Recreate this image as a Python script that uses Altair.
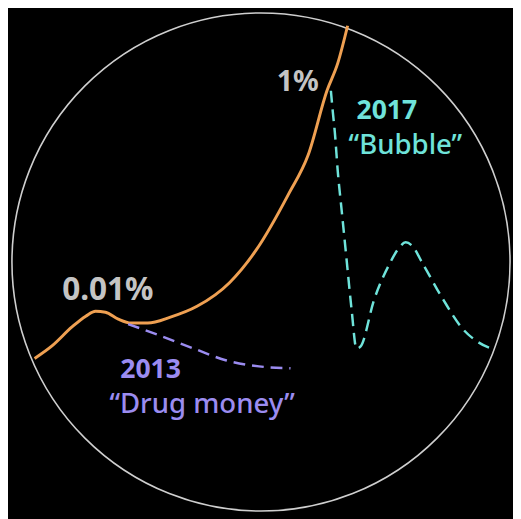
import altair as alt
import pandas as pd

# Coordinates (x to the right, y downward)
orange_x = [35, 53, 73, 87, 97, 107, 120, 133, 150, 173, 200, 233, 260, 293, 313, 332, 343, 353]
orange_y = [360, 347, 328, 317, 312, 313, 320, 324, 324, 318, 307, 283, 250, 193, 153, 88, 60, 22]

purple_x = [130, 163, 197, 230, 263, 295]
purple_y = [325, 337, 350, 362, 368, 370]

teal_x = [336, 338, 340, 343, 347, 352, 357, 362, 366, 380, 395, 405, 412, 418, 430, 450, 470, 485, 502]
teal_y = [88, 110, 130, 170, 210, 260, 310, 350, 348, 300, 265, 248, 242, 245, 265, 300, 330, 343, 351]

circle_cx = [265]
circle_cy = [262]
circle_diameter = 506

label_text = ["0.01%", "1%", "2017", "\u201cBubble\u201d", "2013", "\u201cDrug money\u201d"]
label_x = [63, 281, 362, 354, 122, 111]
label_y = [301, 88, 117, 152, 380, 415]
label_bold = [True, True, True, False, True, False]
label_color = ["#c4c4c4", "#c4c4c4", "#6fe3da", "#6fe3da", "#9b8cf0", "#9b8cf0"]
label_size = [32, 29, 27, 28, 27, 28]

W, H = 513, 511
xs = alt.Scale(domain=[8, 8 + W], nice=False, zero=False)
ys = alt.Scale(domain=[8, 8 + H], nice=False, zero=False, reverse=True)

def line_df(xv, yv):
    return pd.DataFrame({"x": xv, "y": yv, "o": list(range(len(xv)))})

circle = alt.Chart(pd.DataFrame({"x": circle_cx, "y": circle_cy})).mark_point(
    shape="circle", filled=False, size=circle_diameter ** 2, stroke="#cfcfcf",
    strokeWidth=1.6, opacity=1
).encode(x=alt.X("x:Q", scale=xs, axis=None), y=alt.Y("y:Q", scale=ys, axis=None))

orange = alt.Chart(line_df(orange_x, orange_y)).mark_line(
    color="#efa052", strokeWidth=3, interpolate="monotone"
).encode(x=alt.X("x:Q", scale=xs, axis=None), y=alt.Y("y:Q", scale=ys, axis=None), order="o:Q")

purple = alt.Chart(line_df(purple_x, purple_y)).mark_line(
    color="#9b8cf0", strokeWidth=2.5, strokeDash=[12, 7], interpolate="monotone"
).encode(x=alt.X("x:Q", scale=xs, axis=None), y=alt.Y("y:Q", scale=ys, axis=None), order="o:Q")

teal = alt.Chart(line_df(teal_x, teal_y)).mark_line(
    color="#6fe3da", strokeWidth=2.5, strokeDash=[12, 7], interpolate="monotone"
).encode(x=alt.X("x:Q", scale=xs, axis=None), y=alt.Y("y:Q", scale=ys, axis=None), order="o:Q")

labels = pd.DataFrame({"t": label_text, "x": label_x, "y": label_y, "b": label_bold,
                       "c": label_color, "s": label_size})

def text_layer(bold):
    return alt.Chart(labels[labels["b"] == bold]).mark_text(
        align="left", baseline="alphabetic", font="Noto Sans",
        fontWeight=700 if bold else 500
    ).encode(
        x=alt.X("x:Q", scale=xs, axis=None), y=alt.Y("y:Q", scale=ys, axis=None),
        text="t:N", color=alt.Color("c:N", scale=None),
        size=alt.Size("s:Q", scale=None),
    )

chart = alt.layer(circle, orange, purple, teal, text_layer(True), text_layer(False)).properties(
    width=W, height=H, padding=0, autosize=alt.AutoSizeParams(type="none"),
    background="#000000",
).configure_view(stroke=None)

chart.save("out.html", embed_options={"renderer": "svg", "actions": False})
